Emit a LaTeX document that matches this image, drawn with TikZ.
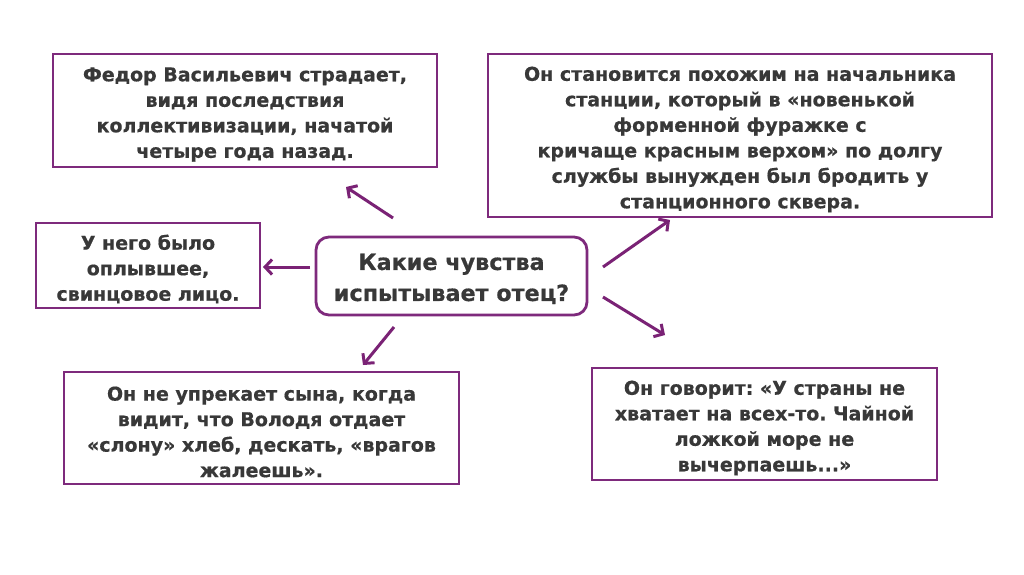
\documentclass[tikz,border=0pt]{standalone}
\usepackage{fontspec}
\setmainfont{DejaVu Sans}[BoldFeatures={FakeBold=0.6}]
\usetikzlibrary{arrows.meta}
\definecolor{boxpurple}{HTML}{7E2A7C}
\definecolor{arrowpurple}{HTML}{7A2275}
\definecolor{txt}{HTML}{383838}
\frenchspacing
\newcommand{\topgap}{\rule{0pt}{22pt}}
\begin{document}
\begin{tikzpicture}[x=1pt,y=-1pt,
  box/.style={draw=boxpurple,line width=2.8pt,fill=white,align=center,text=txt,
    font=\fontsize{19}{25.5}\selectfont\bfseries,inner sep=0pt},
  center/.style={box,rounded corners=13pt,font=\fontsize{22.3}{31}\selectfont\bfseries},
  arr/.style={draw=arrowpurple,line width=3pt,-{Straight Barb[length=7pt,width=15pt,line width=3pt]}}
]
\useasboundingbox (0,0) rectangle (1024,574);
\fill[white] (0,0) rectangle (1024,574);
\node[box,minimum width=384pt,minimum height=113pt] (b1) at (245,110.5)
  {\topgap Федор Васильевич страдает,\\видя последствия\\коллективизации, начатой\\четыре года назад.};
\node[box,minimum width=504pt,minimum height=163pt] (b2) at (740,135.5)
  {\topgap Он становится похожим на начальника\\станции, который в «новенькой\\форменной фуражке с\\кричаще красным верхом» по долгу\\службы вынужден был бродить у\\станционного сквера.};
\node[box,minimum width=224pt,minimum height=85pt] (b3) at (148,265.5)
  {\topgap У него было\\оплывшее,\\свинцовое лицо.};
\node[center,minimum width=271pt,minimum height=78pt] (c) at (451.5,276)
  {\topgap Какие чувства\\испытывает отец?};
\node[box,minimum width=395pt,minimum height=112pt] (b4) at (261.5,428)
  {\topgap Он не упрекает сына, когда\\видит, что Володя отдает\\«слону» хлеб, дескать, «врагов\\жалеешь».};
\node[box,minimum width=345pt,minimum height=112pt] (b5) at (764.5,424)
  {\topgap Он говорит: «У страны не\\хватает на всех-то. Чайной\\ложкой море не\\вычерпаешь...»};
\coordinate (s1) at (393,218); \coordinate (e1) at (346,187);
\coordinate (s2) at (310,267); \coordinate (e2) at (263,267);
\coordinate (s3) at (603,267); \coordinate (e3) at (670,220);
\coordinate (s4) at (603,297); \coordinate (e4) at (665,335);
\coordinate (s5) at (394,327); \coordinate (e5) at (363,365);
\draw[arr] (s1) -- (e1);
\draw[arr] (s2) -- (e2);
\draw[arr] (s3) -- (e3);
\draw[arr] (s4) -- (e4);
\draw[arr] (s5) -- (e5);
\end{tikzpicture}
\end{document}
